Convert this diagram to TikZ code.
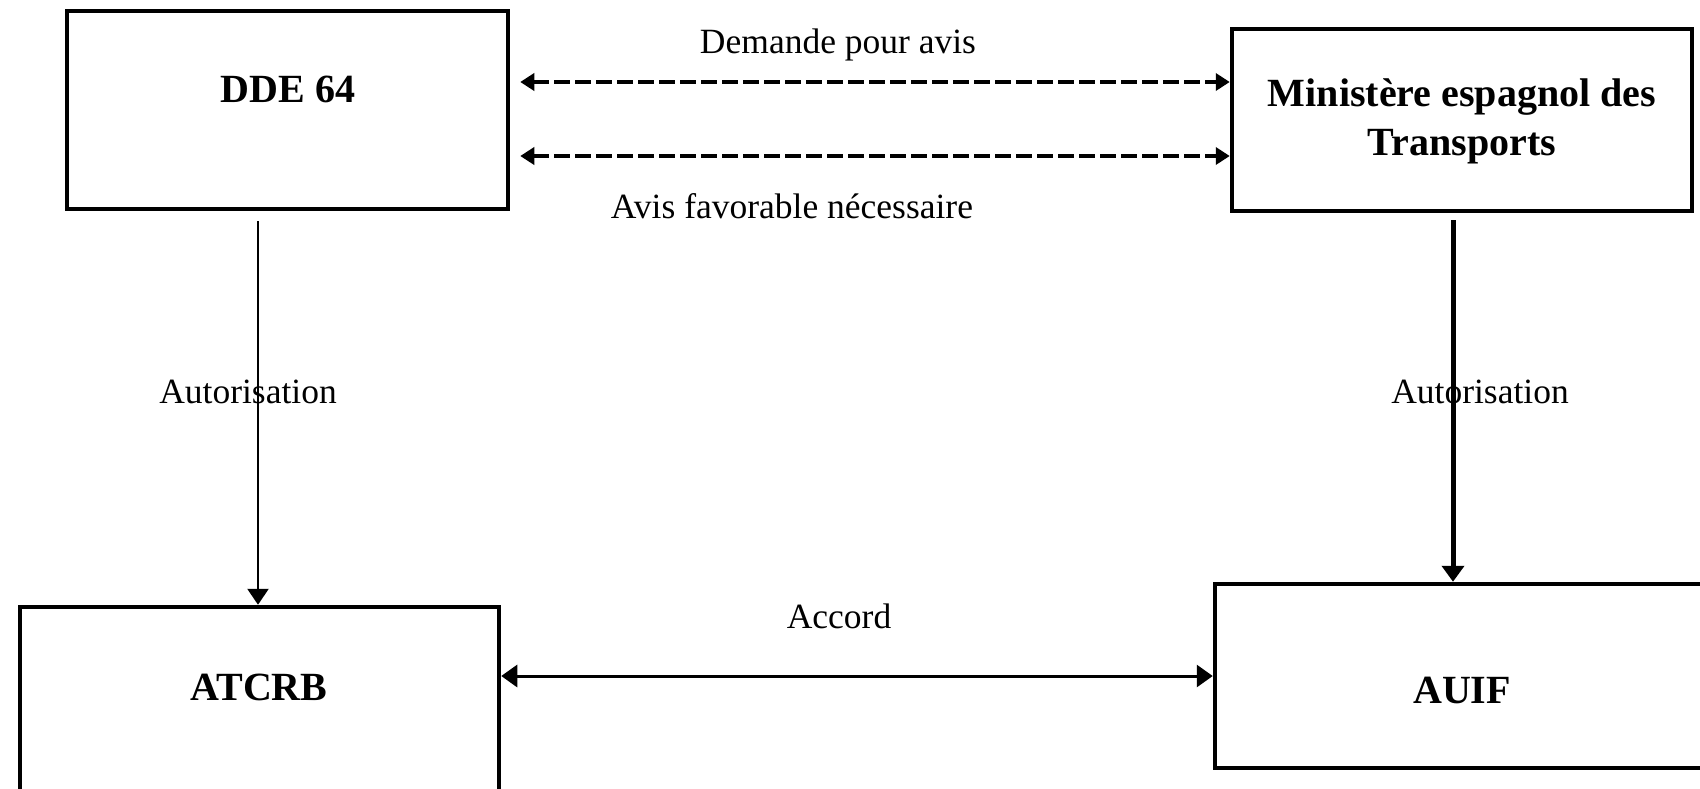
\documentclass[tikz,border=0pt]{standalone}
\usepackage{fontspec}
\setmainfont{Liberation Serif}
\usetikzlibrary{arrows.meta}
\begin{document}
\begin{tikzpicture}[x=1pt,y=-1pt,
  box/.style={draw, line width=4.5pt, rectangle, inner sep=0pt},
  boxtext/.style={font=\fontsize{40}{49}\selectfont\bfseries, anchor=base, inner sep=0pt},
  lbl/.style={font=\fontsize{35.5}{42}\selectfont, anchor=base, inner sep=0pt},
  thinarr/.style={line width=2.5pt, -{Triangle[width=21pt,length=16pt]}},
  thickarr/.style={line width=5pt, -{Triangle[width=22pt,length=16pt]}},
  dasharr/.style={line width=4pt, dash pattern=on 16pt off 5pt, {Triangle[width=17pt,length=14pt]}-{Triangle[width=17pt,length=14pt]}},
  accarr/.style={line width=3pt, {Triangle[width=22pt,length=16pt]}-{Triangle[width=22pt,length=16pt]}}
]
\useasboundingbox (0,0) rectangle (1700,788);
\clip (0,0) rectangle (1700,788);

% boxes
\node[box, minimum width=441pt, minimum height=198pt] (dde) at (287.5,110) {};
\node[box, minimum width=460pt, minimum height=182pt] (min) at (1462,120) {};
\node[box, minimum width=479pt, minimum height=193pt] (atcrb) at (259.5,703.5) {};
\node[box, minimum width=497pt, minimum height=184pt] (auif) at (1463.5,676) {};

% box texts
\node[boxtext] (tdde) at (288,102) {DDE 64};
\node[boxtext] (tmin1) at (1462,106) {Ministère espagnol des};
\node[boxtext] (tmin2) at (1462,155) {Transports};
\node[boxtext] (tatc) at (259,700) {ATCRB};
\node[boxtext] (tauif) at (1462,703) {AUIF};

% connectors
\coordinate (d1) at ([xshift=-29.5pt,yshift=-10pt]dde.south);
\draw[thinarr] (d1) -- (d1 |- atcrb.north);
\coordinate (m1) at ([xshift=-9pt,yshift=-7pt]min.south);
\draw[thickarr] (m1) -- (m1 |- auif.north);
\coordinate (a1) at ([xshift=10pt,yshift=28pt]dde.east);
\draw[dasharr] (a1) -- (a1 -| min.west);
\coordinate (a2) at ([xshift=10pt,yshift=-46pt]dde.east);
\draw[dasharr] (a2) -- (a2 -| min.west);
\draw[accarr] (auif.west -| atcrb.east) -- (auif.west);

% labels
\node[lbl] (ldem) at (838,53) {Demande pour avis};
\node[lbl] (lavis) at (792,218) {Avis favorable nécessaire};
\node[lbl] (laut1) at (248,403) {Autorisation};
\node[lbl] (laut2) at (1480,403) {Autorisation};
\node[lbl] (lacc) at (839,628) {Accord};
\end{tikzpicture}
\end{document}
